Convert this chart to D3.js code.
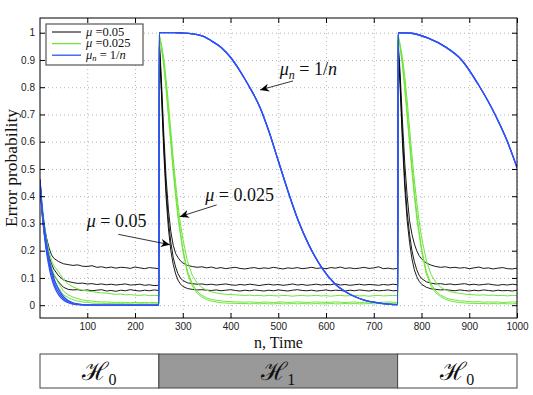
<!DOCTYPE html>
<html>
<head>
<meta charset="utf-8">
<script src="https://cdn.jsdelivr.net/npm/d3@7"></script>
<style>
  html, body { margin: 0; padding: 0; background: #fff; }
  svg { display: block; }
  .tick text { font-family: 'Liberation Sans', Arial, sans-serif; font-size: 10px; fill: #222; }
  .tex { font-family: 'Liberation Serif', 'DejaVu Serif', serif; fill: #111; }
</style>
</head>
<body>
<div id="chart"></div>
<script>
// ---- data ----
// time samples (n) for the mu = 0.05 / 0.025 runs, one list per hypothesis segment
const nSeg1 = [1, 5, 10, 15, 20, 25, 30, 40, 50, 60, 70, 80, 90, 100, 110, 120, 130, 140, 150, 160,
  170, 180, 190, 200, 210, 220, 230, 240, 250];
const nSeg2 = [251, 255, 260, 265, 270, 275, 280, 285, 290, 295,
  300, 310, 320, 330, 340, 350, 360, 370, 380, 390,
  400, 410, 420, 430, 440, 450, 460, 470, 480, 490,
  500, 510, 520, 530, 540, 550, 560, 570, 580, 590,
  600, 610, 620, 630, 640, 650, 660, 670, 680, 690,
  700, 710, 720, 730, 740, 750];
const nSeg3 = [751, 755, 760, 765, 770, 775, 780, 785, 790, 795,
  800, 810, 820, 830, 840, 850, 860, 870, 880, 890,
  900, 910, 920, 930, 940, 950, 960, 970, 980, 990, 1000];

// mu = 0.05 (black), three runs
const black1 = [
  0.46, 0.36, 0.29, 0.245, 0.21, 0.185, 0.172, 0.16, 0.152, 0.149, 0.146, 0.148, 0.143, 0.142, 0.145, 0.139, 0.141, 0.137, 0.14, 0.136,
  0.139, 0.138, 0.135, 0.14, 0.137, 0.134, 0.138, 0.136, 0.134,
  0.97, 0.84, 0.64, 0.47, 0.35, 0.27, 0.22, 0.19, 0.175, 0.163,
  0.155, 0.146, 0.142, 0.139, 0.141, 0.137, 0.14, 0.135, 0.138, 0.134,
  0.137, 0.139, 0.135, 0.133, 0.136, 0.138, 0.134, 0.137, 0.135, 0.139,
  0.136, 0.133, 0.137, 0.135, 0.138, 0.134, 0.136, 0.139, 0.135, 0.137,
  0.134, 0.138, 0.136, 0.14, 0.135, 0.137, 0.134, 0.136, 0.139, 0.135,
  0.137, 0.141, 0.134, 0.136, 0.133, 0.135,
  0.97, 0.86, 0.68, 0.52, 0.4, 0.31, 0.26, 0.225, 0.2, 0.182,
  0.17, 0.155, 0.147, 0.142, 0.139, 0.141, 0.137, 0.139, 0.136, 0.138,
  0.134, 0.137, 0.14, 0.135, 0.137, 0.133, 0.136, 0.138, 0.134, 0.133, 0.136];
const black2 = [
  0.46, 0.35, 0.27, 0.22, 0.18, 0.152, 0.132, 0.108, 0.093, 0.087, 0.083, 0.08, 0.081, 0.078, 0.079, 0.076, 0.078, 0.075, 0.077, 0.074,
  0.076, 0.078, 0.074, 0.075, 0.077, 0.073, 0.075, 0.072, 0.073,
  0.95, 0.81, 0.6, 0.43, 0.31, 0.23, 0.175, 0.14, 0.115, 0.1,
  0.091, 0.082, 0.079, 0.077, 0.078, 0.075, 0.077, 0.074, 0.076, 0.078,
  0.075, 0.073, 0.076, 0.074, 0.077, 0.075, 0.072, 0.075, 0.077, 0.074,
  0.076, 0.073, 0.075, 0.078, 0.074, 0.076, 0.073, 0.075, 0.077, 0.074,
  0.076, 0.075, 0.079, 0.074, 0.076, 0.073, 0.075, 0.077, 0.074, 0.076,
  0.075, 0.073, 0.076, 0.074, 0.077, 0.075,
  0.95, 0.83, 0.63, 0.46, 0.34, 0.26, 0.2, 0.16, 0.13, 0.11,
  0.098, 0.086, 0.081, 0.078, 0.079, 0.076, 0.078, 0.075, 0.077, 0.079,
  0.075, 0.077, 0.074, 0.076, 0.078, 0.075, 0.073, 0.076, 0.074, 0.077, 0.075];
const black3 = [
  0.46, 0.34, 0.26, 0.2, 0.16, 0.13, 0.11, 0.085, 0.066, 0.058, 0.056, 0.057, 0.054, 0.056, 0.053, 0.055, 0.057, 0.052, 0.054, 0.051,
  0.055, 0.053, 0.057, 0.054, 0.052, 0.055, 0.053, 0.056, 0.054,
  0.94, 0.79, 0.57, 0.4, 0.28, 0.2, 0.15, 0.115, 0.092, 0.078,
  0.069, 0.061, 0.058, 0.056, 0.057, 0.055, 0.054, 0.056, 0.053, 0.055,
  0.057, 0.054, 0.052, 0.055, 0.053, 0.056, 0.054, 0.052, 0.055, 0.053,
  0.056, 0.054, 0.052, 0.055, 0.057, 0.054, 0.053, 0.055, 0.052, 0.054,
  0.056, 0.053, 0.055, 0.054, 0.052, 0.055, 0.053, 0.056, 0.054, 0.052,
  0.055, 0.053, 0.054, 0.056, 0.053, 0.054,
  0.94, 0.81, 0.6, 0.43, 0.31, 0.23, 0.17, 0.13, 0.105, 0.088,
  0.077, 0.066, 0.06, 0.058, 0.056, 0.057, 0.055, 0.053, 0.056, 0.054,
  0.052, 0.055, 0.053, 0.056, 0.054, 0.052, 0.055, 0.053, 0.054, 0.052, 0.055];

// mu = 0.025 (green), three runs
const green1 = [
  0.46, 0.37, 0.3, 0.24, 0.195, 0.165, 0.145, 0.122, 0.095, 0.078, 0.067, 0.06, 0.055, 0.052, 0.05, 0.047, 0.045, 0.044, 0.042, 0.04,
  0.041, 0.038, 0.039, 0.037, 0.036, 0.038, 0.035, 0.036, 0.035,
  0.99, 0.96, 0.91, 0.83, 0.74, 0.64, 0.54, 0.45, 0.37, 0.3,
  0.245, 0.16, 0.11, 0.082, 0.065, 0.055, 0.049, 0.045, 0.042, 0.04,
  0.039, 0.038, 0.037, 0.036, 0.037, 0.035, 0.036, 0.034, 0.036, 0.035,
  0.034, 0.036, 0.035, 0.033, 0.035, 0.036, 0.034, 0.035, 0.036, 0.034,
  0.035, 0.033, 0.035, 0.036, 0.034, 0.035, 0.036, 0.034, 0.035, 0.033,
  0.035, 0.036, 0.034, 0.035, 0.036, 0.035,
  0.99, 0.96, 0.91, 0.84, 0.75, 0.65, 0.55, 0.46, 0.38, 0.31,
  0.25, 0.165, 0.113, 0.084, 0.066, 0.056, 0.05, 0.046, 0.043, 0.041,
  0.039, 0.038, 0.037, 0.038, 0.036, 0.037, 0.035, 0.036, 0.034, 0.036, 0.035];
const green2 = [
  0.46, 0.36, 0.28, 0.22, 0.17, 0.14, 0.115, 0.08, 0.052, 0.038, 0.03, 0.024, 0.019, 0.017, 0.015, 0.013, 0.012, 0.012, 0.011, 0.01,
  0.011, 0.01, 0.009, 0.01, 0.009, 0.01, 0.009, 0.01, 0.009,
  0.99, 0.95, 0.89, 0.81, 0.71, 0.61, 0.51, 0.42, 0.34, 0.27,
  0.21, 0.125, 0.078, 0.051, 0.036, 0.027, 0.021, 0.018, 0.016, 0.014,
  0.013, 0.012, 0.012, 0.011, 0.012, 0.011, 0.01, 0.012, 0.011, 0.01,
  0.011, 0.012, 0.01, 0.011, 0.012, 0.011, 0.01, 0.011, 0.012, 0.011,
  0.01, 0.011, 0.012, 0.011, 0.01, 0.011, 0.012, 0.01, 0.011, 0.012,
  0.011, 0.01, 0.011, 0.012, 0.011, 0.01,
  0.99, 0.95, 0.89, 0.81, 0.71, 0.61, 0.51, 0.42, 0.34, 0.27,
  0.21, 0.125, 0.078, 0.052, 0.037, 0.028, 0.022, 0.019, 0.016, 0.015,
  0.013, 0.012, 0.013, 0.011, 0.012, 0.011, 0.012, 0.01, 0.011, 0.012, 0.011];
const green3 = [
  0.46, 0.35, 0.27, 0.2, 0.15, 0.12, 0.095, 0.063, 0.038, 0.028, 0.02, 0.015, 0.012, 0.01, 0.008, 0.007, 0.007, 0.006, 0.006, 0.005,
  0.006, 0.005, 0.005, 0.004, 0.005, 0.005, 0.004, 0.005, 0.004,
  0.99, 0.95, 0.88, 0.79, 0.69, 0.59, 0.49, 0.4, 0.32, 0.26,
  0.2, 0.115, 0.07, 0.044, 0.03, 0.021, 0.015, 0.012, 0.009, 0.008,
  0.007, 0.007, 0.006, 0.006, 0.005, 0.006, 0.005, 0.006, 0.005, 0.005,
  0.006, 0.005, 0.005, 0.006, 0.005, 0.006, 0.005, 0.005, 0.006, 0.005,
  0.005, 0.006, 0.005, 0.005, 0.006, 0.005, 0.006, 0.005, 0.005, 0.006,
  0.005, 0.006, 0.005, 0.005, 0.006, 0.005,
  0.99, 0.95, 0.88, 0.79, 0.69, 0.59, 0.49, 0.4, 0.32, 0.26,
  0.2, 0.115, 0.07, 0.045, 0.031, 0.022, 0.016, 0.012, 0.01, 0.008,
  0.007, 0.007, 0.006, 0.006, 0.005, 0.006, 0.005, 0.006, 0.005, 0.005, 0.006];

// mu_n = 1/n (blue): three runs in the first H0 segment, identical afterwards
const nBlue1 = [1, 5, 10, 15, 20, 25, 30, 35, 40, 50, 60, 70, 80, 100, 150, 200, 250];
const blueA1 = [0.46, 0.35, 0.26, 0.19, 0.14, 0.1, 0.073, 0.053, 0.038, 0.019, 0.009, 0.004, 0.002, 0, 0, 0, 0];
const blueB1 = [0.46, 0.36, 0.275, 0.205, 0.155, 0.115, 0.085, 0.063, 0.047, 0.025, 0.013, 0.006, 0.003, 0.001, 0, 0, 0];
const blueC1 = [0.46, 0.37, 0.29, 0.225, 0.172, 0.13, 0.1, 0.076, 0.058, 0.032, 0.017, 0.009, 0.005, 0.001, 0, 0, 0];
const nBlue23 = [251, 280, 300, 320, 346, 360, 381, 400, 416, 430, 440, 451, 462, 480, 500, 521, 542, 563, 591, 619,
  640, 661, 680, 703, 730, 750, 751, 779, 814, 849, 884, 919, 954, 980, 1000];
const blue23 = [1, 1, 0.999, 0.996, 0.985, 0.97, 0.945, 0.91, 0.87, 0.83, 0.8, 0.765, 0.725, 0.64, 0.53, 0.415, 0.31, 0.225, 0.138, 0.078,
  0.05, 0.031, 0.019, 0.01, 0.004, 0.002, 1, 0.998, 0.98, 0.949, 0.9, 0.81, 0.7, 0.6, 0.505];

const xTicks = [100, 200, 300, 400, 500, 600, 700, 800, 900, 1000];
const yTicks = [0, 0.1, 0.2, 0.3, 0.4, 0.5, 0.6, 0.7, 0.8, 0.9, 1];

// hypothesis bar under the plot
const hypStart = [1, 250, 750];
const hypEnd = [250, 750, 1000];
const hypIndex = ['0', '1', '0'];
const hypActive = [false, true, false];

// ---- layout ----
const width = 533, height = 395;
const plot = { left: 40, right: 517, top: 18, bottom: 318 };
const colBlack = '#000000', colGreen = '#6ee43a', colBlue = '#2f52f7';

const x = d3.scaleLinear().domain([1, 1000]).range([plot.left, plot.right]);
const y = d3.scaleLinear().domain([-0.047, 1.054]).range([plot.bottom, plot.top]);

const nGrid = nSeg1.concat(nSeg2, nSeg3);
const nBlue = nBlue1.concat(nBlue23);

const series = [
  { n: nGrid, v: black1, color: colBlack, w: 0.9, smooth: false },
  { n: nGrid, v: black2, color: colBlack, w: 0.9, smooth: false },
  { n: nGrid, v: black3, color: colBlack, w: 0.9, smooth: false },
  { n: nGrid, v: green1, color: colGreen, w: 1, smooth: false },
  { n: nGrid, v: green2, color: colGreen, w: 1, smooth: false },
  { n: nGrid, v: green3, color: colGreen, w: 1, smooth: false },
  { n: nBlue, v: blueC1.concat(blue23), color: colBlue, w: 1.3, smooth: true },
  { n: nBlue, v: blueB1.concat(blue23), color: colBlue, w: 1.3, smooth: true },
  { n: nBlue, v: blueA1.concat(blue23), color: colBlue, w: 1.3, smooth: true }
];
series.forEach((s, i) => {
  if (s.n.length !== s.v.length) console.error('length mismatch in series', i, s.n.length, s.v.length);
});

const svg = d3.select('#chart')
  .append('svg')
  .attr('width', width)
  .attr('height', height);

svg.append('rect').attr('width', width).attr('height', height).attr('fill', '#fff');

// dotted grid
svg.append('g')
  .attr('transform', `translate(0,${plot.bottom})`)
  .call(d3.axisBottom(x).tickValues(xTicks).tickSize(-(plot.bottom - plot.top)).tickFormat(''))
  .call(g => g.select('.domain').remove())
  .call(g => g.selectAll('line').attr('stroke', '#b5b5b5').attr('stroke-dasharray', '1,3'));
svg.append('g')
  .attr('transform', `translate(${plot.left},0)`)
  .call(d3.axisLeft(y).tickValues(yTicks).tickSize(-(plot.right - plot.left)).tickFormat(''))
  .call(g => g.select('.domain').remove())
  .call(g => g.selectAll('line').attr('stroke', '#b5b5b5').attr('stroke-dasharray', '1,3'));

// curves
const line = d3.line()
  .x(d => x(d[0]))
  .y(d => y(d[1]));
const smoothLine = d3.line()
  .x(d => x(d[0]))
  .y(d => y(d[1]))
  .curve(d3.curveMonotoneX);

svg.append('clipPath').attr('id', 'plotclip')
  .append('rect')
  .attr('x', plot.left).attr('y', plot.top)
  .attr('width', plot.right - plot.left).attr('height', plot.bottom - plot.top);

svg.append('g')
  .attr('clip-path', 'url(#plotclip)')
  .selectAll('path')
  .data(series)
  .join('path')
  .attr('d', s => (s.smooth ? smoothLine : line)(s.n.map((n, i) => [n, s.v[i]])))
  .attr('fill', 'none')
  .attr('stroke', s => s.color)
  .attr('stroke-width', s => s.w)
  .attr('stroke-linejoin', 'round');

// axes: ticks pointing inwards on all four sides
svg.append('g')
  .attr('transform', `translate(0,${plot.bottom})`)
  .call(d3.axisBottom(x).tickValues(xTicks).tickSize(-5).tickPadding(5).tickFormat(d => String(d)))
  .call(g => g.select('.domain').remove());
svg.append('g')
  .attr('transform', `translate(0,${plot.top})`)
  .call(d3.axisTop(x).tickValues(xTicks).tickSize(-5).tickFormat(''))
  .call(g => g.select('.domain').remove());
svg.append('g')
  .attr('transform', `translate(${plot.left},0)`)
  .call(d3.axisLeft(y).tickValues(yTicks).tickSize(-5).tickPadding(5).tickFormat(d => String(d)))
  .call(g => g.select('.domain').remove());
svg.append('g')
  .attr('transform', `translate(${plot.right},0)`)
  .call(d3.axisRight(y).tickValues(yTicks).tickSize(-5).tickFormat(''))
  .call(g => g.select('.domain').remove());

svg.append('rect')
  .attr('x', plot.left).attr('y', plot.top)
  .attr('width', plot.right - plot.left).attr('height', plot.bottom - plot.top)
  .attr('fill', 'none').attr('stroke', '#000').attr('stroke-width', 1);

// axis titles
svg.append('text')
  .attr('class', 'tex')
  .attr('transform', `translate(17,${(plot.top + plot.bottom) / 2}) rotate(-90)`)
  .attr('text-anchor', 'middle')
  .style('font-size', '17.5px')
  .text('Error probability');

svg.append('text')
  .attr('class', 'tex')
  .attr('x', (plot.left + plot.right) / 2)
  .attr('y', 348)
  .attr('text-anchor', 'middle')
  .style('font-size', '16px')
  .text('n, Time');

// legend
const legend = svg.append('g');
legend.append('rect')
  .attr('x', 46).attr('y', 24).attr('width', 97).attr('height', 41)
  .attr('fill', '#fff').attr('stroke', '#555').attr('stroke-width', 1.2);
const legendItems = [
  { color: colBlack, w: 1, sub: null, rest: ' =0.05' },
  { color: colGreen, w: 1.3, sub: null, rest: ' =0.025' },
  { color: colBlue, w: 1.3, sub: 'n', rest: ' = 1/' }
];
legendItems.forEach((it, i) => {
  const ly = 32 + i * 11.6;
  legend.append('line')
    .attr('x1', 52).attr('x2', 81).attr('y1', ly).attr('y2', ly)
    .attr('stroke', it.color).attr('stroke-width', it.w);
  const t = legend.append('text').attr('class', 'tex')
    .attr('x', 86).attr('y', ly + 3.5).style('font-size', '12.5px');
  t.append('tspan').style('font-style', 'italic').text('\u03bc');
  if (it.sub) {
    t.append('tspan').style('font-style', 'italic').style('font-size', '8.5px').attr('dy', 2).text(it.sub);
    t.append('tspan').attr('dy', -2).text(it.rest);
    t.append('tspan').style('font-style', 'italic').text('n');
  } else {
    t.append('tspan').text(it.rest);
  }
});

// annotations with arrows (anchors in data units)
svg.append('defs').append('marker')
  .attr('id', 'arrowhead')
  .attr('viewBox', '0 -5 10 10')
  .attr('refX', 10).attr('refY', 0)
  .attr('markerWidth', 9).attr('markerHeight', 9)
  .attr('markerUnits', 'userSpaceOnUse')
  .attr('orient', 'auto')
  .append('path')
  .attr('d', 'M0,-4.5L10,0L0,4.5L3,0Z')
  .attr('fill', '#000');

const arrows = [
  { from: [531, 0.823], to: [462, 0.79] },
  { from: [371, 0.368], to: [294, 0.325] },
  { from: [165, 0.26], to: [273, 0.222] }
];
svg.append('g').selectAll('line')
  .data(arrows)
  .join('line')
  .attr('x1', d => x(d.from[0])).attr('y1', d => y(d.from[1]))
  .attr('x2', d => x(d.to[0])).attr('y2', d => y(d.to[1]))
  .attr('stroke', '#000').attr('stroke-width', 0.8)
  .attr('marker-end', 'url(#arrowhead)');

function muLabel(n, v, sub, rest) {
  const t = svg.append('text').attr('class', 'tex')
    .attr('x', x(n)).attr('y', y(v)).style('font-size', '18px');
  t.append('tspan').style('font-style', 'italic').text('\u03bc');
  if (sub) {
    t.append('tspan').style('font-style', 'italic').style('font-size', '12px').attr('dy', 4).text(sub);
    t.append('tspan').attr('dy', -4).text(rest);
    t.append('tspan').style('font-style', 'italic').text('n');
  } else {
    t.append('tspan').text(rest);
  }
}
muLabel(503, 0.845, 'n', ' = 1/');
muLabel(347, 0.383, null, ' = 0.025');
muLabel(99, 0.287, null, ' = 0.05');

// hypothesis bar
const bar = svg.append('g');
const barTop = 354, barBottom = 388;
bar.selectAll('rect')
  .data(hypStart)
  .join('rect')
  .attr('x', (d, i) => x(d))
  .attr('y', barTop)
  .attr('width', (d, i) => x(hypEnd[i]) - x(d))
  .attr('height', barBottom - barTop)
  .attr('fill', (d, i) => hypActive[i] ? '#999999' : '#fff')
  .attr('stroke', '#444').attr('stroke-width', 1);

hypStart.forEach((s, i) => {
  const t = bar.append('text').attr('class', 'tex')
    .attr('x', (x(s) + x(hypEnd[i])) / 2)
    .attr('y', 380)
    .attr('text-anchor', 'middle')
    .style('font-family', "'DejaVu Serif', serif")
    .style('font-size', '25px');
  t.append('tspan').text('\u210b');
  t.append('tspan').attr('dy', 5).style('font-size', '16px').style('font-family', "'Liberation Serif', serif").text(hypIndex[i]);
});
</script>
</body>
</html>
